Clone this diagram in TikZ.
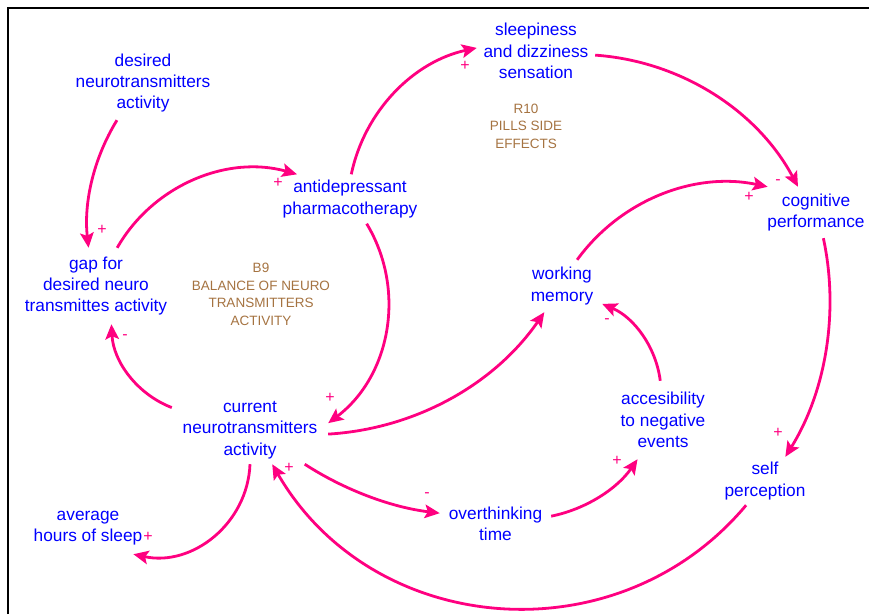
\documentclass[tikz,border=0pt]{standalone}
\usepackage{fontspec}
\setmainfont{Liberation Sans}
\usetikzlibrary{arrows.meta}
\definecolor{vblue}{RGB}{0,0,255}
\definecolor{vpink}{RGB}{255,0,128}
\definecolor{vbrown}{RGB}{165,115,65}
\begin{document}
\begin{tikzpicture}[x=1pt,y=-1pt,
  var/.style={rectangle, inner sep=0pt, align=center, text=vblue, font=\fontsize{17.3}{21.3}\selectfont},
  loopname/.style={align=center, text=vbrown, inner sep=0pt, font=\fontsize{13.5}{17.5}\selectfont},
  pol/.style={text=vpink, inner sep=0pt, font=\fontsize{16}{16}\selectfont},
  link/.style={draw=vpink, line width=2.8pt, -{Stealth[length=15pt,width=13.5pt,inset=3pt]}},
  frame/.style={draw=black, line width=2pt}]
\useasboundingbox (0,0) rectangle (869,614);
\draw[frame] (8,614) -- (8,8) -- (869,8);

% variables
\node[var, yshift=-2pt, minimum width=140pt, minimum height=74pt] (D) at (143,81) {desired\\neurotransmitters\\activity};
\node[var, yshift=-2pt, minimum width=152pt, minimum height=76pt] (G) at (96,284) {gap for\\desired neuro\\transmittes activity};
\node[var, yshift=-2pt, minimum width=136pt, minimum height=49pt] (A) at (350,197) {antidepressant\\pharmacotherapy};
\node[var, yshift=-1pt, minimum width=118pt, minimum height=62pt] (S) at (536,50) {sleepiness\\and dizziness\\sensation};
\node[var, yshift=-2pt, minimum width=99pt, minimum height=51pt] (C) at (816,210.5) {cognitive\\performance};
\node[var, yshift=-2pt, minimum width=80pt, minimum height=52pt] (W) at (562,284) {working\\memory};
\node[var, yshift=-1pt, minimum width=88pt, minimum height=78pt] (X) at (663,419) {accesibility\\to negative\\events};
\node[var, yshift=-2pt, minimum width=84pt, minimum height=48pt] (P) at (765,479) {self\\perception};
\node[var, yshift=-2pt, minimum width=156pt, minimum height=68pt] (N) at (250,428) {current\\neurotransmitters\\activity};
\node[var, minimum width=111pt, minimum height=48pt] (O) at (495.5,524) {overthinking\\time};
\node[var, yshift=-3pt, minimum width=112pt, minimum height=52pt] (H) at (88,525) {average\\hours of sleep};

% loop labels
\node[loopname] (B9) at (261,294.5) {B9\\BALANCE OF NEURO\\TRANSMITTERS\\ACTIVITY};
\node[loopname] (R10) at (526,126) {R10\\PILLS SIDE\\EFFECTS};

% links
\draw[link] (D.-125.1) to[bend right=19, looseness=0.88] (G.101.9);
\draw[link] (G.61.6) to[bend left=38, looseness=0.95] (A.155.2);
\draw[link] (A.87.6) to[bend left=33, looseness=0.93] (S.177);
\draw[link] (A.-56.3) to[bend left=42, looseness=0.98] (N.5.7);
\draw[link] (N.164.9) to[bend left=33, looseness=0.93] (G.-68.5);
\draw[link] (N.-3) to[bend right=26, looseness=0.9] (W.-124.7);
\draw[link] (N.-32.1) to[bend right=13, looseness=0.86] (O.169.8);
\draw[link] (N.-90) to[bend left=50, looseness=1.04] (H.-30.6);
\draw[link] (O.8.2) to[bend right=22, looseness=0.88] (X.-123.7);
\draw[link] (X.94.4) to[bend right=30, looseness=0.91] (W.-24.8);
\draw[link] (W.60) to[bend left=33, looseness=0.93] (C.152);
\draw[link] (S.-4.8) to[bend left=29, looseness=0.91] (C.125.2);
\draw[link] (C.-74.6) to[bend left=22, looseness=0.88] (P.50.2);
\draw[link] (P.-128.4) to[bend left=55, looseness=1.08] (N.-57);

% polarities
\node[pol] (p1) at (102,230) {+};
\node[pol] (p2) at (278,183) {+};
\node[pol] (p3) at (465,66) {+};
\node[pol] (p4) at (330,398) {+};
\node[pol] (p5) at (125,337) {-};
\node[pol] (p7) at (427,495) {-};
\node[pol] (p8) at (148,537) {+};
\node[pol] (p9) at (617,461) {+};
\node[pol] (p10) at (607,321) {-};
\node[pol] (p11) at (749,197) {+};
\node[pol] (p12) at (778,182) {-};
\node[pol] (p13) at (778,433) {+};
\node[pol] (p14) at (289,468) {+};
\end{tikzpicture}
\end{document}
